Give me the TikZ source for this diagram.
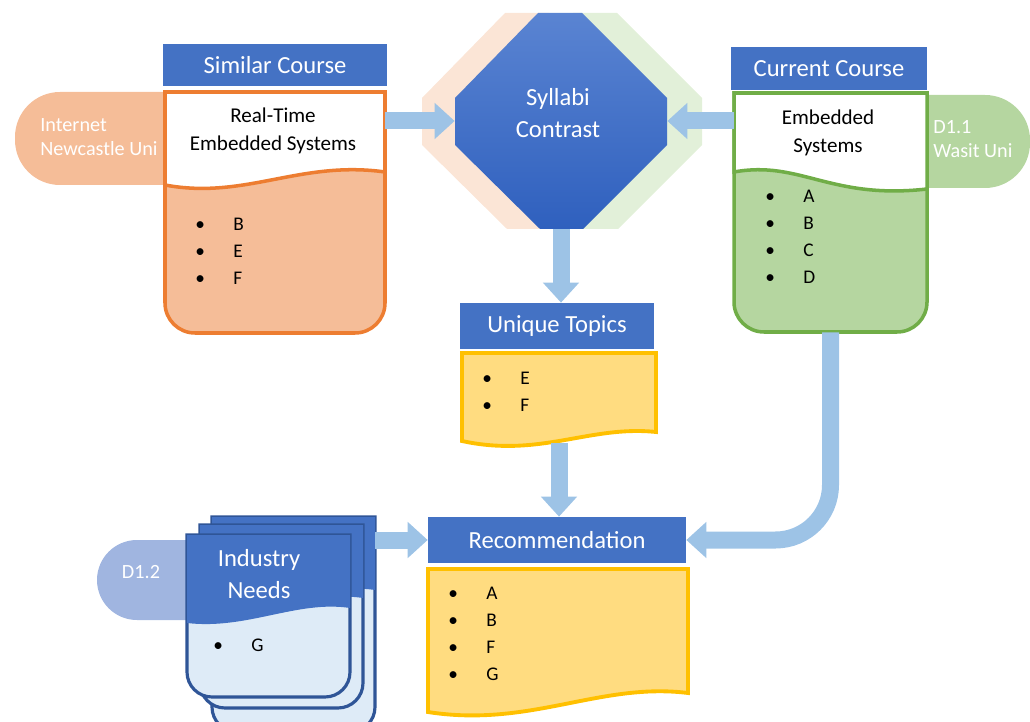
\documentclass[tikz,border=0pt]{standalone}
\usepackage{fontspec}
\setmainfont{Carlito}
\usetikzlibrary{arrows.meta,fit}

\definecolor{hblue}{HTML}{4472C4}
\definecolor{orline}{HTML}{ED7D31}
\definecolor{orfill}{HTML}{F5BD98}
\definecolor{grline}{HTML}{70AD47}
\definecolor{grfill}{HTML}{B5D6A0}
\definecolor{yeline}{HTML}{FFC000}
\definecolor{yefill}{HTML}{FFDC80}
\definecolor{arrblue}{HTML}{9DC3E6}
\definecolor{navy}{HTML}{2F5597}
\definecolor{indfill}{HTML}{DEEBF7}
\definecolor{tabblue}{HTML}{A0B5E0}
\definecolor{lightor}{HTML}{FBE5D6}
\definecolor{lightgr}{HTML}{E2F0D9}
\definecolor{octtop}{HTML}{5A84D2}
\definecolor{octbot}{HTML}{2F60BE}

\newcommand{\topic}[1]{\makebox[0.76cm][l]{\textbullet}#1}

\tikzset{
  head/.style={fill=hblue, text=white, inner sep=0pt, font=\fontsize{14}{18}\selectfont},
  headtext/.style={text=white, align=center, inner sep=0pt, font=\fontsize{14}{18}\selectfont},
  title/.style={align=center, inner sep=0pt, font=\fontsize{12}{16}\selectfont},
  items/.style={align=left, anchor=west, inner sep=0pt, font=\fontsize{11}{15.4}\selectfont},
  tabtext/.style={align=left, text=white, inner sep=0pt, font=\fontsize{11.5}{13.7}\selectfont},
  area/.style={inner sep=0pt},
  flow/.style={draw=arrblue, line width=0.34cm, -{Triangle[width=0.7cm,length=0.4cm]}},
}

\begin{document}
\begin{tikzpicture}[x=0.02cm, y=-0.02cm]
\useasboundingbox (0,0) rectangle (1030,722);

% source tabs
\fill[orfill, rounded corners=0.9cm] (15,92) rectangle (220,185);
\fill[grfill, rounded corners=0.9cm] (880,95) rectangle (1030,188);
\fill[tabblue, rounded corners=0.8cm] (97,540) rectangle (230,620);
\node[tabtext, anchor=west] (srcsim) at (40,137) {Internet\\Newcastle Uni};
\node[tabtext, anchor=west] (srccur) at (933,139) {D1.1\\Wasit Uni};
\node[tabtext] (srcind) at (141,572) {D1.2};

% syllabi contrast
\foreach \s/\c in {-33/lightor, 35/lightgr}
  \fill[\c, shift={(\s,0)}] (538,13) -- (582,13) -- (667,98) -- (667,145) -- (583,229) -- (540,229) -- (455,145) -- (455,98) -- cycle;
\shade[top color=octtop, bottom color=octbot] (538,13) -- (582,13) -- (667,98) -- (667,145) -- (583,229) -- (540,229) -- (455,145) -- (455,98) -- cycle;
\node[area, fit={(455,13) (667,229)}] (syl) {};
\node[headtext] (syltext) at (558,113) {Syllabi\\Contrast};

% similar course
\node[head, minimum width=4.48cm, minimum height=0.84cm] (simhead) at (275,65) {Similar Course};
\draw[orline, line width=2pt, fill=orfill] (165,200) [rounded corners=0.6cm] -- (165,333) -- (385,333) -- (385,200) [sharp corners] -- (385,92) -- (165,92) -- cycle;
\draw[orline, line width=2pt, fill=white] (165,185) -- (165,92) -- (385,92) -- (385,172) .. controls (300,160) and (245,200) .. (165,185) -- cycle;
\node[area, fit={(165,92) (385,333)}] (simbody) {};
\node[title] (simtitle) at (273,131) {Real-Time\\Embedded Systems};
\node[items] (simitems) at (195,251) {\topic{B}\\\topic{E}\\\topic{F}};

% current course
\node[head, minimum width=3.92cm, minimum height=0.86cm] (curhead) at (829,68.5) {Current Course};
\draw[grline, line width=2pt, fill=grfill] (734,200) [rounded corners=0.6cm] -- (734,332) -- (927,332) -- (927,200) [sharp corners] -- (927,93) -- (734,93) -- cycle;
\draw[grline, line width=2pt, fill=white] (734,172) -- (734,93) -- (927,93) -- (927,189) .. controls (830,200) and (800,160) .. (734,172) -- cycle;
\node[area, fit={(734,93) (927,332)}] (curbody) {};
\node[title] (curtitle) at (828,133) {Embedded\\Systems};
\node[items] (curitems) at (765,237) {\topic{A}\\\topic{B}\\\topic{C}\\\topic{D}};

% unique topics
\node[head, minimum width=3.88cm, minimum height=0.92cm] (uniqhead) at (557,326) {Unique Topics};
\draw[yeline, line width=2.2pt, fill=yefill] (462,353) -- (656,353) -- (656,432) .. controls (590,425) and (540,458) .. (462,441) -- cycle;
\node[area, fit={(462,353) (656,443)}] (uniqbody) {};
\node[items] (uniqitems) at (482,392) {\topic{E}\\\topic{F}};

% recommendation
\node[head, minimum width=5.16cm, minimum height=0.92cm] (rechead) at (557,540) {Recommendation};
\draw[yeline, line width=2.2pt, fill=yefill] (428,569) -- (688,569) -- (688,693) .. controls (600,682) and (530,728) .. (428,712) -- cycle;
\node[items] (recitems) at (448,634) {\topic{A}\\\topic{B}\\\topic{F}\\\topic{G}};

% industry needs
\foreach \dx/\dy/\h in {25/-18/215, 13/-10/183, 0/0/162} {
  \begin{scope}[shift={(187+\dx,535+\dy)}]
    \draw[navy, line width=1.8pt, fill=indfill] (0,60) [rounded corners=0.5cm] -- (0,\h) -- (163,\h) -- (163,60) [sharp corners] -- (163,0) -- (0,0) -- cycle;
    \fill[hblue] (0,0) -- (163,0) -- (163,73) .. controls (110,65) and (60,95) .. (0,88) -- cycle;
  \end{scope}
}
\node[area, fit={(187,517) (375,697)}] (industry) {};
\node[headtext] (indtext) at (259,574) {Industry\\Needs};
\node[items] (inditems) at (213,645) {\topic{G}};

% arrows
\draw[flow] (simbody.east |- syl.west) -- (syl.west);
\draw[flow] (curbody.west |- syl.east) -- (syl.east);
\draw[flow] (syl.south) -- (syl.south |- uniqhead.north);
\draw[flow] (uniqbody.south) -- (uniqbody.south |- rechead.north);
\draw[flow] (industry.east |- rechead.west) -- (rechead.west);
\draw[flow, rounded corners=1.1cm] (curbody.south) |- (rechead.east);

\end{tikzpicture}
\end{document}
